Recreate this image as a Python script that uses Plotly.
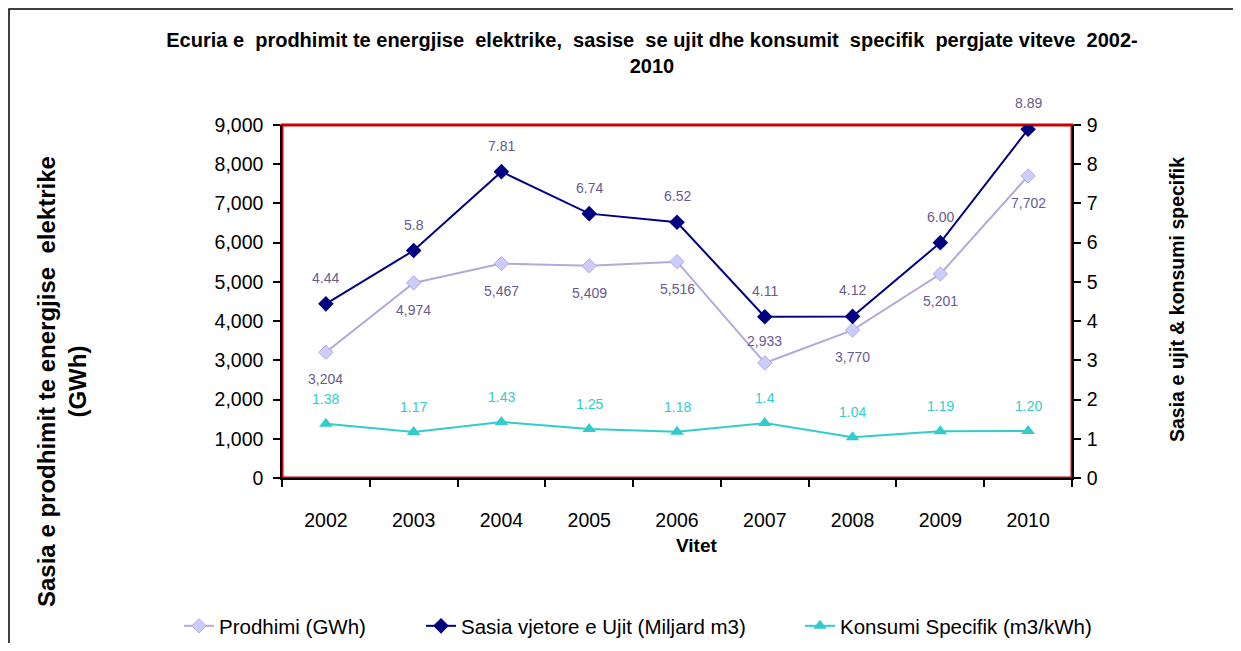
import plotly.graph_objects as go

years = ["2002", "2003", "2004", "2005", "2006", "2007", "2008", "2009", "2010"]
prodhimi = [3204, 4974, 5467, 5409, 5516, 2933, 3770, 5201, 7702]
prodhimi_labels = ["3,204", "4,974", "5,467", "5,409", "5,516", "2,933", "3,770", "5,201", "7,702"]
prodhimi_label_side = [-1, -1, -1, -1, -1, 1, -1, -1, -1]
sasia = [4.44, 5.8, 7.81, 6.74, 6.52, 4.11, 4.12, 6.00, 8.89]
sasia_labels = ["4.44", "5.8", "7.81", "6.74", "6.52", "4.11", "4.12", "6.00", "8.89"]
konsumi = [1.38, 1.17, 1.43, 1.25, 1.18, 1.4, 1.04, 1.19, 1.20]
konsumi_labels = ["1.38", "1.17", "1.43", "1.25", "1.18", "1.4", "1.04", "1.19", "1.20"]
left_ticks = [0, 1000, 2000, 3000, 4000, 5000, 6000, 7000, 8000, 9000]
right_ticks = [0, 1, 2, 3, 4, 5, 6, 7, 8, 9]

FONT = "Liberation Sans, Arial, sans-serif"
LABEL_COLOR = "#6A5A8E"
TURQ = "#33CCCC"
NAVY = "#000080"
LAV_LINE = "#B4A8D8"
LAV_FILL = "#CCCCFF"

OFF = 8  # page body margin
W, H = 1241 - 2 * OFF, 651 - 2 * OFF
# plot area in screen pixels
SL, SR, ST, SB = 282, 1072, 125, 478
L, R, T, B = SL - OFF, SR - OFF, ST - OFF, SB - OFF


def px_x(p):
    return (p - SL) / (SR - SL)


def px_y(p):
    return (SB - p) / (SB - ST)


fig = go.Figure()
fig.add_trace(go.Scatter(
    x=years, y=prodhimi, name="Prodhimi (GWh)", mode="lines+markers",
    line=dict(color=LAV_LINE, width=2),
    marker=dict(symbol="diamond", size=11, color=LAV_FILL, line=dict(color=LAV_LINE, width=1)),
    yaxis="y", legend="legend", showlegend=True,
))
fig.add_trace(go.Scatter(
    x=years, y=sasia, name="Sasia vjetore e Ujit (Miljard m3)", mode="lines+markers",
    line=dict(color=NAVY, width=2),
    marker=dict(symbol="diamond", size=12, color=NAVY),
    yaxis="y2", legend="legend2", showlegend=True,
))
fig.add_trace(go.Scatter(
    x=years, y=konsumi, name="Konsumi Specifik (m3/kWh)", mode="lines+markers",
    line=dict(color=TURQ, width=2),
    marker=dict(symbol="triangle-up", size=12, color=TURQ),
    yaxis="y2", legend="legend3", showlegend=True,
))

ann = []
lab_font = dict(family=FONT, size=14, color=LABEL_COLOR)
for i, (v, t, s) in enumerate(zip(prodhimi, prodhimi_labels, prodhimi_label_side)):
    ann.append(dict(x=i, y=v, xref="x", yref="y", text=t, showarrow=False,
                    xanchor="center", yanchor="middle",
                    yshift=22 if s > 0 else -27, font=lab_font))
for i, (v, t) in enumerate(zip(sasia, sasia_labels)):
    ann.append(dict(x=i, y=v, xref="x", yref="y2", text=t, showarrow=False,
                    xanchor="center", yanchor="middle", yshift=26, font=lab_font))
for i, (v, t) in enumerate(zip(konsumi, konsumi_labels)):
    ann.append(dict(x=i, y=v, xref="x", yref="y2", text=t, showarrow=False,
                    xanchor="center", yanchor="middle", yshift=25,
                    font=dict(family=FONT, size=14, color=TURQ)))

ann.append(dict(x=px_x(62), y=px_y(382), xref="paper", yref="paper", textangle=-90,
                xanchor="center", yanchor="middle",
                text="<b>Sasia e prodhimit te energjise  elektrike<br>(GWh)</b>", showarrow=False,
                font=dict(family=FONT, size=24, color="black")))
ann.append(dict(x=px_x(1177), y=px_y(300), xref="paper", yref="paper", textangle=-90,
                xanchor="center", yanchor="middle",
                text="<b>Sasia e ujit & konsumi specifik</b>", showarrow=False,
                font=dict(family=FONT, size=19.5, color="black")))
ann.append(dict(x=px_x(697), y=px_y(545), xref="paper", yref="paper",
                xanchor="center", yanchor="middle",
                text="<b>Vitet</b>", showarrow=False,
                font=dict(family=FONT, size=19, color="black")))

shapes = [
    dict(type="rect", xref="paper", yref="paper", x0=px_x(9), x1=px_x(1300), y0=px_y(700), y1=px_y(9),
         line=dict(color="black", width=1.5), layer="below"),
    dict(type="rect", xref="paper", yref="paper", x0=0, x1=1, y0=0, y1=1,
         line=dict(color="#CC0000", width=3), layer="below"),
]

axis_font = dict(family=FONT, size=19.5, color="black")
leg_font = dict(family=FONT, size=20.5, color="black")
leg_y = 1 - (626 - OFF) / H


def leg(xscreen):
    return dict(orientation="h", xref="container", yref="container", x=(xscreen - OFF) / W, y=leg_y,
                xanchor="left", yanchor="middle", font=leg_font, bgcolor="rgba(0,0,0,0)",
                borderwidth=0)


fig.update_layout(
    width=W, height=H,
    margin=dict(l=L, r=W - R, t=T, b=H - B, autoexpand=False),
    paper_bgcolor="white", plot_bgcolor="white",
    showlegend=True,
    title=dict(text="<b>Ecuria e  prodhimit te energjise  elektrike,  sasise  se ujit dhe konsumit  specifik  pergjate viteve  2002-<br>2010</b>",
               x=(652 - OFF) / W, xanchor="center", y=1 - 39 / H, yanchor="top",
               font=dict(family=FONT, size=20, color="black")),
    xaxis=dict(type="category", range=[-0.5, 8.5], showline=True, linecolor="black", linewidth=1.5,
               ticks="outside", ticklen=7, tickcolor="black", tickwidth=1.5, tickson="boundaries",
               ticklabelstandoff=24,
               showgrid=False, zeroline=False, tickfont=axis_font),
    yaxis=dict(range=[0, 9000], tickvals=left_ticks, tickformat=",d", showline=True, linecolor="black",
               linewidth=1.5, ticks="outside", ticklen=7, tickcolor="black", tickwidth=1.5,
               ticklabelstandoff=6,
               showgrid=False, zeroline=False, tickfont=axis_font),
    yaxis2=dict(range=[0, 9], tickvals=right_ticks, overlaying="y", side="right", showline=True,
                linecolor="black", linewidth=1.5, ticks="outside", ticklen=7, tickcolor="black",
                tickwidth=1.5, ticklabelstandoff=2, showgrid=False, zeroline=False, tickfont=axis_font),
    legend=leg(179),
    legend2=leg(421),
    legend3=leg(800),
    annotations=ann,
    shapes=shapes,
)

fig.write_html("out.html")
